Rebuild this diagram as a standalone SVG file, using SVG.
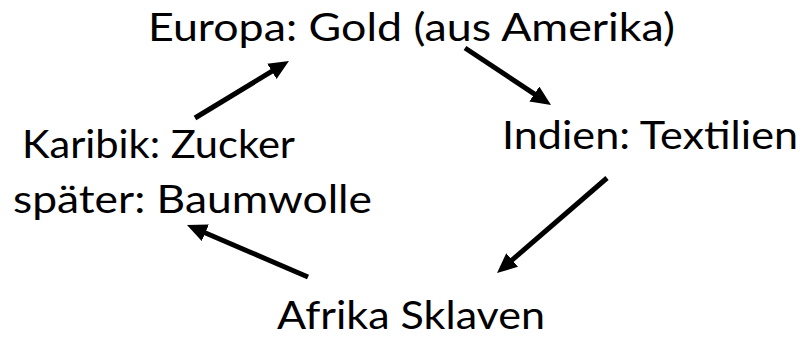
<svg xmlns="http://www.w3.org/2000/svg" width="808" height="337" viewBox="0 0 808 337">
<style>
text{font-family:Lato,"Open Sans","Liberation Sans",sans-serif;fill:#000;font-size:39px}
.arr{stroke:#000;stroke-width:5;fill:none;marker-end:url(#ah)}
</style>
<defs>
<marker id="ah" markerUnits="userSpaceOnUse" markerWidth="22" markerHeight="18" refX="8" refY="9" orient="auto" viewBox="0 0 22 18">
<path d="M0,0 L20,9 L0,18 Z" fill="#000"/>
</marker>
</defs>
<rect width="808" height="337" fill="#fff"/>
<g id="europa"><text x="148" y="41" textLength="527" lengthAdjust="spacingAndGlyphs">Europa: Gold (aus Amerika)</text></g>
<g id="karibik">
<text x="22" y="158" textLength="273" lengthAdjust="spacingAndGlyphs">Karibik: Zucker</text>
<text x="13" y="213" textLength="359" lengthAdjust="spacingAndGlyphs">später: Baumwolle</text>
</g>
<g id="indien"><text x="502" y="149" textLength="296" lengthAdjust="spacingAndGlyphs">Indien: Textilien</text></g>
<g id="afrika"><text x="277" y="329" textLength="268" lengthAdjust="spacingAndGlyphs">Afrika Sklaven</text></g>
<g id="connectors">
<line class="arr" x1="195" y1="118" x2="278.7" y2="67.2"/>
<line class="arr" x1="465" y1="48" x2="541" y2="98.4"/>
<line class="arr" x1="607" y1="178" x2="506.1" y2="265.2"/>
<line class="arr" x1="308" y1="277" x2="198" y2="229.7"/>
</g>
</svg>
